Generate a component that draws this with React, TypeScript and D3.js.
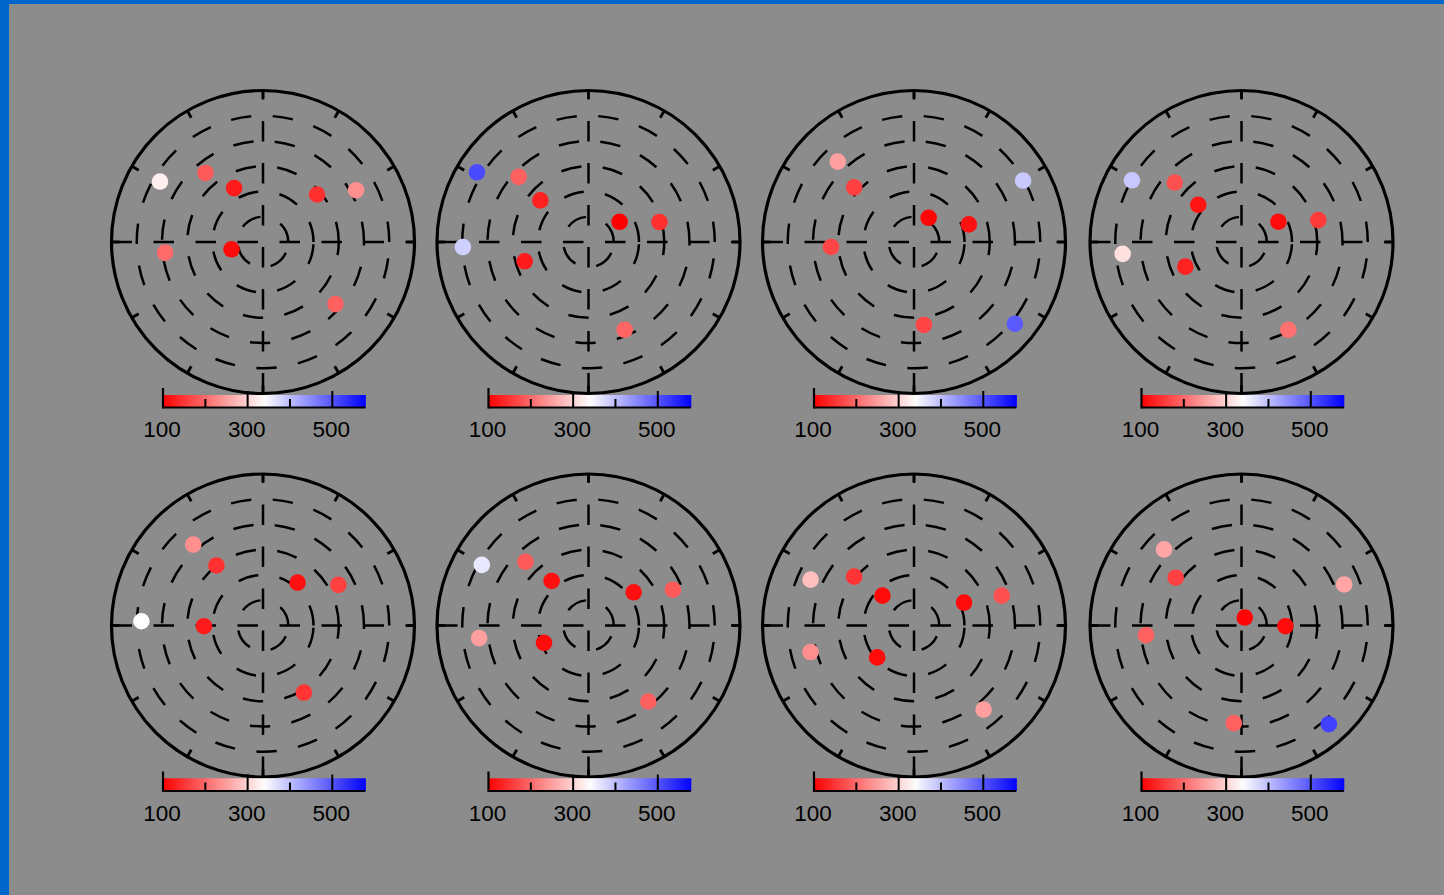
import React from "react";
import * as d3 from "d3";

// Each point: [theta in degrees, radius (0..6 ring units), value]
const panel1: [number, number, number][] = [
  [149.6, 4.73, 325], [129.8, 3.56, 185], [118.2, 2.42, 125], [41.3, 2.85, 145],
  [29.1, 4.22, 235], [186.2, 3.9, 200], [193.0, 1.28, 110], [319.4, 3.78, 190],
];
const panel2: [number, number, number][] = [
  [148.0, 5.21, 510], [137.0, 3.78, 190], [139.2, 2.52, 130], [33.0, 1.47, 100],
  [15.7, 2.92, 145], [182.3, 4.98, 384], [196.8, 2.64, 125], [292.4, 3.76, 195],
];
const panel3: [number, number, number][] = [
  [133.5, 4.39, 250], [137.6, 3.21, 160], [58.8, 1.12, 105], [17.8, 2.28, 115],
  [29.4, 4.96, 392], [183.4, 3.29, 165], [276.8, 3.31, 165], [321.0, 5.14, 495],
];
const panel4: [number, number, number][] = [
  [150.6, 4.98, 392], [138.3, 3.54, 175], [139.3, 2.26, 120], [28.8, 1.67, 110],
  [15.9, 3.16, 155], [185.7, 4.73, 311], [203.7, 2.43, 130], [298.1, 3.94, 205],
];
const panel5: [number, number, number][] = [
  [130.8, 4.23, 235], [127.8, 3.01, 145], [51.1, 2.18, 115], [28.3, 3.39, 160],
  [178.0, 4.82, 340], [180.7, 2.34, 125], [301.4, 3.11, 150],
];
const panel6: [number, number, number][] = [
  [150.4, 4.86, 362], [134.7, 3.55, 185], [129.6, 2.29, 115], [36.3, 2.22, 115],
  [23.0, 3.63, 185], [186.6, 4.36, 250], [201.2, 1.89, 110], [308.2, 3.83, 190],
];
const panel7: [number, number, number][] = [
  [156.1, 4.48, 280], [140.8, 3.06, 150], [136.6, 1.72, 110], [24.6, 2.18, 110],
  [18.8, 3.67, 175], [194.4, 4.23, 235], [220.9, 1.93, 110], [309.6, 4.32, 250],
];
const panel8: [number, number, number][] = [
  [135.5, 4.3, 255], [144.0, 3.22, 160], [67.6, 0.34, 105], [359.1, 1.74, 110],
  [21.8, 4.38, 255], [185.8, 3.8, 190], [265.5, 3.88, 190], [311.5, 5.22, 520],
];

const ringTicks = [1, 2, 3, 4, 5];
const angleTicks = [0, 30, 60, 90, 120, 150, 180, 210, 240, 270, 300, 330];
const cbMajorTicks = [100, 300, 500];
const cbMinorTicks = [200, 400];
const cbLabels = ["100", "300", "500"];
const colorDomain = [100, 340, 580];
const colorRange = ["#ff0000", "#ffffff", "#0000ff"];

const panels = [panel1, panel2, panel3, panel4, panel5, panel6, panel7, panel8];
const colX = [263, 588.5, 914, 1241.5];
const rowY = [242, 625.5];

const R = 151.5;
const rScale = d3.scaleLinear().domain([0, 6]).range([0, R]);
const color = d3.scaleLinear<string>().domain(colorDomain).range(colorRange);
const cbScale = d3.scaleLinear().domain([100, 578]).range([-100, 102.3]);

const DASH = "20.5,21.5";
const INK = "#000";

function circlePath(r: number) {
  return `M${r},0 A${r},${r} 0 1 0 ${-r},0 A${r},${r} 0 1 0 ${r},0`;
}

function Panel({ data, cx, cy }: { data: [number, number, number][]; cx: number; cy: number }) {
  const cbSteps = d3.range(100, 578, 1);
  const top = R + 0.5;
  const barTop = R + 1.5;
  const barBot = R + 14;
  return (
    <g transform={`translate(${cx},${cy})`}>
      {ringTicks.map((t) => (
        <path key={t} d={circlePath(rScale(t))} fill="none" stroke={INK} strokeWidth={2.5} strokeDasharray={DASH} />
      ))}
      <line x1={-R} y1={0} x2={R} y2={0} stroke={INK} strokeWidth={2.5} strokeDasharray={DASH} />
      <line x1={0} y1={R} x2={0} y2={-R} stroke={INK} strokeWidth={2.5} strokeDasharray={DASH} />
      <circle r={R} fill="none" stroke={INK} strokeWidth={3.2} />
      {angleTicks.map((a) => {
        const rad = (a * Math.PI) / 180;
        return (
          <line key={a} x1={R * Math.cos(rad)} y1={-R * Math.sin(rad)} x2={(R - 8) * Math.cos(rad)} y2={-(R - 8) * Math.sin(rad)} stroke={INK} strokeWidth={2.8} />
        );
      })}
      {data.map(([th, r, v], i) => {
        const rad = (th * Math.PI) / 180;
        const rr = rScale(r);
        return <circle key={i} cx={rr * Math.cos(rad)} cy={-rr * Math.sin(rad)} r={8.3} fill={color(v)} />;
      })}
      {cbSteps.map((v) => (
        <rect key={v} x={cbScale(v)} y={barTop} width={cbScale(v + 1) - cbScale(v) + 0.5} height={barBot - barTop} fill={color(v + 0.5)} />
      ))}
      <line x1={cbScale(100)} y1={barBot} x2={cbScale(578)} y2={barBot} stroke={INK} strokeWidth={2.2} />
      <line x1={cbScale(100)} y1={top - 6} x2={cbScale(100)} y2={barBot + 1} stroke={INK} strokeWidth={2.2} />
      {cbMajorTicks.slice(1).map((t) => (
        <line key={t} x1={cbScale(t)} y1={top - 3} x2={cbScale(t)} y2={barBot} stroke={INK} strokeWidth={2} />
      ))}
      {cbMinorTicks.map((t) => (
        <line key={t} x1={cbScale(t)} y1={barTop + 4} x2={cbScale(t)} y2={barBot} stroke={INK} strokeWidth={2} />
      ))}
      {cbMajorTicks.map((t, i) => (
        <text key={t} x={cbScale(t) - 1} y={R + 43.5} textAnchor="middle" fontFamily="'Liberation Sans', Arial, sans-serif" fontSize={22.5} fill="#000">
          {cbLabels[i]}
        </text>
      ))}
    </g>
  );
}

export default function App() {
  return (
    <svg width={1444} height={895} style={{ position: "absolute", left: 0, top: 0 }}>
      <rect x={0} y={0} width={1444} height={895} fill="#0066cc" />
      <rect x={9} y={4} width={1435} height={891} fill="#8c8c8c" />
      {panels.map((p, i) => (
        <Panel key={i} data={p} cx={colX[i % 4]} cy={rowY[Math.floor(i / 4)]} />
      ))}
    </svg>
  );
}
